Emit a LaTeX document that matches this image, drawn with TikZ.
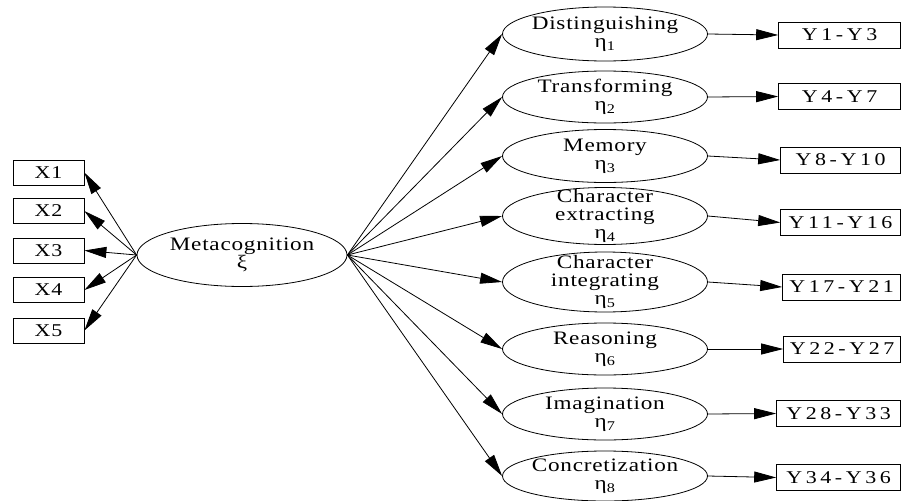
\documentclass[tikz,border=0pt]{standalone}
\usepackage{fontspec}
\setmainfont{Liberation Serif}
\newfontfamily\latentfont[FakeStretch=1.22,LetterSpace=4]{Liberation Serif}
\newfontfamily\itemfont[FakeStretch=1.22,LetterSpace=20]{Liberation Serif}
\usetikzlibrary{shapes.geometric,arrows.meta}

\begin{document}
\begin{tikzpicture}[x=1pt,y=-1pt,
  latent/.style={draw, ellipse, line width=0.8pt, inner sep=-20pt, minimum width=205pt, align=center, font=\latentfont\fontsize{19}{18}\selectfont},
  item/.style={draw, rectangle, line width=0.8pt, inner sep=0pt, minimum height=26pt, font=\itemfont\fontsize{18}{18}\selectfont},
  loading/.style={line width=0.8pt, -{Triangle[length=22pt,width=11pt]}}]
\useasboundingbox (0,0) rectangle (903,501);

% draw the factor
\node[latent, minimum width=210pt, minimum height=63pt] (meta) at (242,255) {Metacognition\\ξ};

% draw the indicators on the left
\node[item, font=\latentfont\fontsize{18}{18}\selectfont, minimum width=71pt, minimum height=25pt] (x1) at (48.5,172.5) {X1};
\node[item, font=\latentfont\fontsize{18}{18}\selectfont, minimum width=71pt, minimum height=25pt] (x2) at (48.5,211) {X2};
\node[item, font=\latentfont\fontsize{18}{18}\selectfont, minimum width=71pt, minimum height=25pt] (x3) at (48.5,250.5) {X3};
\node[item, font=\latentfont\fontsize{18}{18}\selectfont, minimum width=71pt, minimum height=25pt] (x4) at (48.5,290) {X4};
\node[item, font=\latentfont\fontsize{18}{18}\selectfont, minimum width=71pt, minimum height=25pt] (x5) at (48.5,330.5) {X5};

% draw the sub factors
\node[latent, minimum height=54pt] (eta1) at (605,34) {Distinguishing\\η\textsubscript{1}};
\node[latent, minimum height=52pt] (eta2) at (605,97) {Transforming\\η\textsubscript{2}};
\node[latent, minimum height=53pt] (eta3) at (605,156) {Memory\\η\textsubscript{3}};
\node[latent, minimum height=57pt] (eta4) at (605,216) {Character\\extracting\\η\textsubscript{4}};
\node[latent, minimum height=60pt] (eta5) at (605,282) {Character\\integrating\\η\textsubscript{5}};
\node[latent, minimum height=52pt] (eta6) at (605,349) {Reasoning\\η\textsubscript{6}};
\node[latent, minimum height=52pt] (eta7) at (605,414) {Imagination\\η\textsubscript{7}};
\node[latent, minimum height=50pt] (eta8) at (605,476) {Concretization\\η\textsubscript{8}};

% draw the item groups
\node[item, anchor=east, minimum width=122pt] (y1) at (901,35) {Y1-Y3};
\node[item, anchor=east, minimum width=122pt] (y2) at (901,96.5) {Y4-Y7};
\node[item, anchor=east, minimum width=120pt] (y3) at (901,160) {Y8-Y10};
\node[item, anchor=east, minimum width=120pt] (y4) at (901,222.5) {Y11-Y16};
\node[item, anchor=east, minimum width=118pt] (y5) at (901,287) {Y17-Y21};
\node[item, anchor=east, minimum width=117pt] (y6) at (901,349) {Y22-Y27};
\node[item, anchor=east, minimum width=124pt] (y7) at (901,413.5) {Y28-Y33};
\node[item, anchor=east, minimum width=124pt] (y8) at (901,477.5) {Y34-Y36};

% draw the arrows
\draw[loading] (meta.west) -- (x1.east);
\draw[loading] (meta.west) -- (x2.east);
\draw[loading] (meta.west) -- (x3.east);
\draw[loading] (meta.west) -- (x4.east);
\draw[loading] (meta.west) -- (x5.east);

\draw[loading] (meta.east) -- (eta1.west);
\draw[loading] (meta.east) -- (eta2.west);
\draw[loading] (meta.east) -- (eta3.west);
\draw[loading] (meta.east) -- (eta4.west);
\draw[loading] (meta.east) -- (eta5.west);
\draw[loading] (meta.east) -- (eta6.west);
\draw[loading] (meta.east) -- (eta7.west);
\draw[loading] (meta.east) -- (eta8.west);

\draw[loading] (eta1.east) -- (y1.west);
\draw[loading] (eta2.east) -- (y2.west);
\draw[loading] (eta3.east) -- (y3.west);
\draw[loading] (eta4.east) -- (y4.west);
\draw[loading] (eta5.east) -- (y5.west);
\draw[loading] (eta6.east) -- (y6.west);
\draw[loading] (eta7.east) -- (y7.west);
\draw[loading] (eta8.east) -- (y8.west);

\end{tikzpicture}
\end{document}
